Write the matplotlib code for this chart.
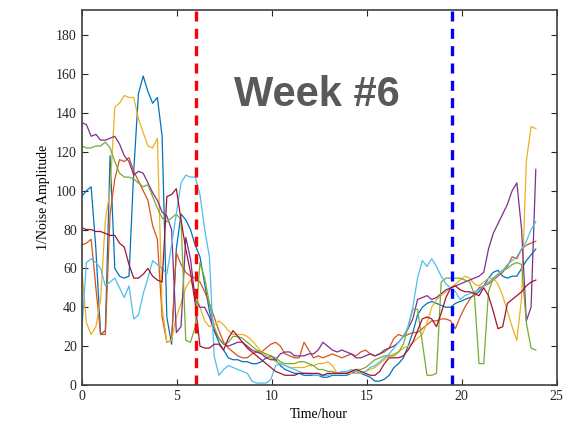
import matplotlib
matplotlib.use("Agg")
import matplotlib.pyplot as plt
import numpy as np

# Sampling times (hours), one reading roughly every 15 minutes
hours = np.linspace(0, 23.9, 97)

# 1/noise amplitude per day of the week
day1 = [97, 100, 102, 70, 26, 28, 118, 60,
        56, 55, 56, 110, 150, 159, 151, 145,
        148, 128, 35, 21, 70, 88, 85, 80,
        72, 66, 52, 38, 28, 22, 18, 14,
        13, 13, 12, 12, 11, 11, 12, 14,
        15, 13, 10, 8, 7, 6, 6, 5,
        5, 5, 5, 4, 4, 5, 5, 5,
        5, 6, 7, 6, 5, 4, 2, 2,
        3, 5, 9, 11, 14, 20, 27, 36,
        40, 42, 43, 42, 41, 40, 40, 42,
        43, 44, 45, 46, 48, 51, 55, 58,
        59, 56, 55, 56, 56, 60, 64, 67,
        70]
day2 = [72, 73, 75, 50, 26, 26, 88, 106,
        116, 115, 117, 110, 105, 100, 95, 82,
        75, 35, 22, 23, 68, 62, 58, 56,
        55, 53, 48, 42, 35, 28, 22, 19,
        17, 15, 14, 14, 16, 17, 17, 19,
        21, 22, 20, 16, 15, 14, 14, 22,
        18, 14, 15, 14, 15, 16, 15, 14,
        15, 16, 15, 17, 18, 16, 15, 16,
        17, 19, 24, 26, 25, 26, 27, 27,
        29, 31, 33, 33, 34, 34, 33, 29,
        35, 40, 44, 47, 50, 51, 52, 54,
        56, 58, 61, 66, 65, 70, 72, 73,
        74]
day3 = [60, 32, 26, 30, 44, 85, 100, 143,
        145, 149, 148, 148, 137, 130, 123, 122,
        127, 40, 22, 23, 35, 42, 50, 54,
        48, 40, 33, 30, 31, 33, 31, 28,
        26, 26, 26, 25, 23, 20, 17, 15,
        14, 12, 11, 10, 9, 9, 9, 9,
        10, 10, 11, 11, 12, 10, 6, 6,
        6, 6, 6, 6, 7, 8, 9, 11,
        13, 15, 16, 17, 19, 20, 22, 24,
        26, 32, 40, 44, 46, 48, 50, 52,
        54, 56, 55, 52, 51, 53, 55, 55,
        52, 46, 38, 30, 23, 45, 115, 133,
        132]
day4 = [135, 134, 128, 129, 126, 126, 127, 128,
        124, 118, 115, 108, 110, 109, 104, 99,
        95, 89, 87, 80, 27, 30, 76, 65,
        44, 40, 40, 35, 28, 24, 21, 20,
        21, 22, 22, 20, 18, 17, 16, 14,
        13, 13, 16, 17, 17, 15, 15, 15,
        16, 16, 18, 22, 20, 18, 17, 18,
        17, 16, 14, 14, 15, 16, 15, 16,
        18, 19, 20, 22, 25, 29, 34, 44,
        45, 46, 44, 45, 47, 49, 50, 51,
        52, 53, 54, 55, 56, 58, 70, 78,
        83, 88, 93, 100, 104, 80, 33, 40,
        111]
day5 = [123, 122, 122, 123, 123, 125, 122, 115,
        109, 107, 107, 106, 104, 102, 103, 97,
        91, 86, 84, 86, 88, 85, 23, 22,
        30, 63, 55, 42, 30, 24, 21, 22,
        25, 25, 24, 22, 20, 18, 17, 16,
        15, 14, 12, 11, 11, 11, 12, 12,
        11, 10, 8, 8, 7, 7, 6, 6,
        6, 7, 8, 8, 9, 11, 13, 14,
        15, 15, 15, 17, 21, 30, 39, 39,
        22, 5, 5, 6, 53, 55, 55, 55,
        55, 54, 53, 47, 11, 11, 48, 55,
        57, 59, 60, 62, 63, 62, 32, 19,
        18]
day6 = [27, 63, 65, 63, 60, 51, 53, 55,
        50, 45, 51, 34, 36, 47, 55, 64,
        62, 60, 57, 72, 88, 104, 108, 107,
        107, 98, 80, 66, 15, 5, 8, 10,
        9, 8, 7, 6, 2, 1, 1, 1,
        3, 10, 11, 10, 9, 8, 7, 6,
        6, 5, 5, 5, 5, 6, 6, 7,
        7, 8, 7, 6, 7, 9, 10, 12,
        14, 16, 19, 22, 25, 30, 40, 55,
        64, 61, 65, 61, 56, 52, 50, 48,
        44, 46, 47, 48, 49, 51, 53, 55,
        57, 59, 62, 64, 66, 70, 74, 80,
        84]
day7 = [81, 80, 80, 79, 79, 78, 77, 77,
        73, 71, 62, 55, 55, 57, 60, 56,
        54, 53, 97, 98, 101, 85, 70, 58,
        42, 20, 19, 19, 21, 21, 18, 24,
        28, 25, 22, 19, 17, 15, 13, 11,
        9, 7, 6, 5, 5, 5, 6, 6,
        6, 6, 6, 5, 6, 6, 6, 6,
        6, 7, 8, 7, 6, 5, 5, 7,
        11, 14, 14, 14, 15, 18, 22, 28,
        34, 35, 34, 30, 37, 45, 50, 51,
        49, 48, 48, 47, 46, 50, 46, 38,
        29, 30, 42, 44, 46, 48, 51, 53,
        54]

days = [day1, day2, day3, day4, day5, day6, day7]
colors = ["#0072BD", "#D95319", "#EDB120", "#7E2F8E",
          "#77AC30", "#4DBEEE", "#A2142F"]

sunrise = 6.0
sunset = 19.5

plt.rcParams["font.family"] = ["Liberation Serif", "DejaVu Serif"]

fig = plt.figure(figsize=(5.65, 4.25), dpi=100)
ax = fig.add_axes([0.1446, 0.0941, 0.8407, 0.8824])

for vals, c in zip(days, colors):
    ax.plot(hours, vals, color=c, lw=0.9)

ax.axvline(sunrise, color="#FF0000", ls=(0, (3, 2.2)), lw=2.4)
ax.axvline(sunset, color="#0000FF", ls=(0, (3, 2.2)), lw=2.4)

ax.text(12.4, 149, "Week #6", ha="center", va="center", fontsize=30,
        fontweight="bold", color="#595959", family="Liberation Sans")

ax.set_xlim(0, 25)
ax.set_ylim(0, 193)
ax.set_xticks(np.arange(0, 26, 5))
ax.set_yticks(np.arange(0, 181, 20))
ax.tick_params(direction="in", top=True, right=True, length=4,
               labelsize=10, colors="#262626", width=0.8)
for s in ax.spines.values():
    s.set_color("#404040")
    s.set_linewidth(1.2)

ax.set_xlabel("Time/hour", fontsize=10)
ax.set_ylabel("1/Noise Amplitude", fontsize=10)

fig.savefig("out.png", dpi=100)
